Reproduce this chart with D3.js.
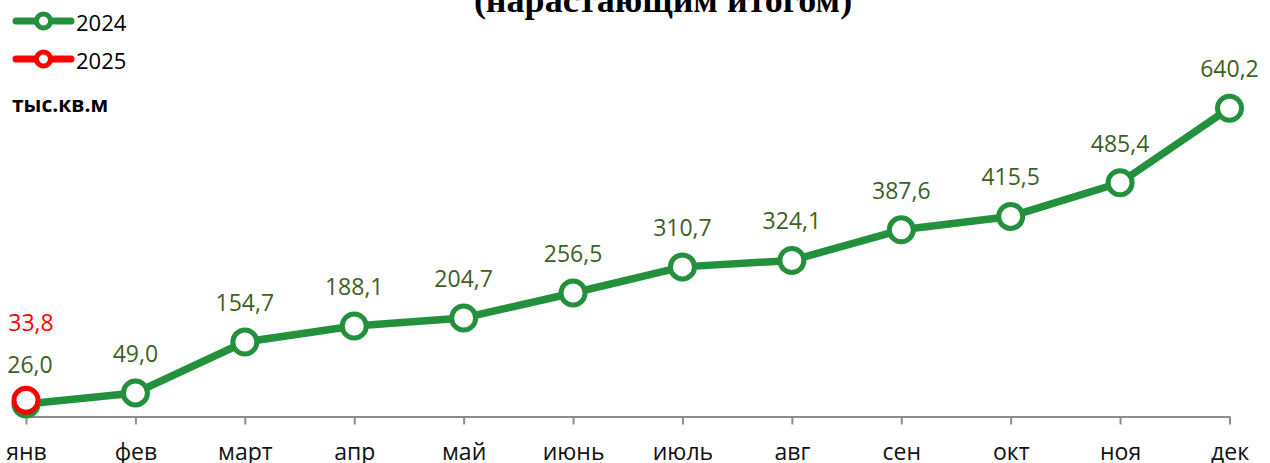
<!DOCTYPE html>
<html>
<head>
<meta charset="utf-8">
<script src="https://cdn.jsdelivr.net/npm/d3@7"></script>
<style>
  body { margin: 0; background: #fff; }
  svg { display: block; }
</style>
</head>
<body>
<div id="chart"></div>
<script>
// data
const months = ['янв', 'фев', 'март', 'апр', 'май', 'июнь', 'июль', 'авг', 'сен', 'окт', 'ноя', 'дек'];
const values2024 = [26.0, 49.0, 154.7, 188.1, 204.7, 256.5, 310.7, 324.1, 387.6, 415.5, 485.4, 640.2];
const values2025 = [33.8];
const seriesNames = ['2024', '2025'];
const titleText = '(нарастающим итогом)';
const unitText = 'тыс.кв.м';

const width = 1270, height = 463;
const green = '#23913c', red = '#ff0000', labelGreen = '#3d6123';
const font = "'Open Sans', 'Noto Sans', sans-serif";

const svg = d3.select('#chart').append('svg')
  .attr('width', width)
  .attr('height', height);

const x = d3.scalePoint().domain(months).range([26, 1229.5]);
const y = d3.scaleLinear().domain([0, 700]).range([416.5, 79.4]);

const fmt = v => d3.format('.1f')(v).replace('.', ',');

// title (its upper line lies above the picture)
svg.append('text')
  .attr('x', 663).attr('y', 12)
  .attr('text-anchor', 'middle')
  .attr('font-family', "'Liberation Serif', 'Times New Roman', serif")
  .attr('font-weight', 'bold')
  .attr('font-size', 36)
  .text(titleText);

// axis
const axis = svg.append('g')
  .attr('transform', `translate(0,${y(0)})`)
  .call(d3.axisBottom(x).tickSize(8).tickSizeOuter(0).tickPadding(19));
axis.select('.domain').attr('stroke', '#8c8c8c').attr('stroke-width', 2);
axis.selectAll('.tick line').attr('stroke', '#8c8c8c').attr('stroke-width', 2);
axis.selectAll('.tick text')
  .attr('font-family', font)
  .attr('font-size', 23)
  .attr('fill', '#111');

// 2024 line
const line = d3.line()
  .x((d, i) => x(months[i]))
  .y(d => y(d));

svg.append('path')
  .datum(values2024)
  .attr('d', line)
  .attr('fill', 'none')
  .attr('stroke', green)
  .attr('stroke-width', 7.5)
  .attr('stroke-linejoin', 'round');

svg.selectAll('.pt2024')
  .data(values2024)
  .enter().append('circle')
  .attr('class', 'pt2024')
  .attr('cx', (d, i) => x(months[i]))
  .attr('cy', d => y(d))
  .attr('r', 12)
  .attr('fill', '#fff')
  .attr('stroke', green)
  .attr('stroke-width', 5);

svg.selectAll('.lbl2024')
  .data(values2024)
  .enter().append('text')
  .attr('class', 'lbl2024')
  .attr('x', (d, i) => x(months[i]) + (i == 0 ? 4 : 0))
  .attr('y', d => y(d) - 31)
  .attr('text-anchor', 'middle')
  .attr('font-family', font)
  .attr('font-size', 23)
  .attr('fill', labelGreen)
  .text(d => fmt(d));

// 2025
svg.selectAll('.pt2025')
  .data(values2025)
  .enter().append('circle')
  .attr('class', 'pt2025')
  .attr('cx', (d, i) => x(months[i]))
  .attr('cy', d => y(d))
  .attr('r', 12)
  .attr('fill', '#fff')
  .attr('stroke', red)
  .attr('stroke-width', 5);

svg.selectAll('.lbl2025')
  .data(values2025)
  .enter().append('text')
  .attr('class', 'lbl2025')
  .attr('x', (d, i) => x(months[i]) + 5)
  .attr('y', d => y(d) - 69)
  .attr('text-anchor', 'middle')
  .attr('font-family', font)
  .attr('font-size', 23)
  .attr('fill', red)
  .text(d => fmt(d));

// legend
const legend = svg.selectAll('.legend')
  .data(seriesNames)
  .enter().append('g')
  .attr('class', 'legend')
  .attr('transform', (d, i) => `translate(0,${21 + i * 38})`);
legend.append('line')
  .attr('x1', 16).attr('x2', 71)
  .attr('stroke', (d, i) => i ? red : green)
  .attr('stroke-width', 7)
  .attr('stroke-linecap', 'round');
legend.append('circle')
  .attr('cx', 43.5).attr('r', 7)
  .attr('fill', '#fff')
  .attr('stroke', (d, i) => i ? red : green)
  .attr('stroke-width', 5);
legend.append('text')
  .attr('x', 76).attr('y', 10)
  .attr('font-family', font)
  .attr('font-size', 22)
  .attr('fill', '#000')
  .text(d => d);

// unit
svg.append('text')
  .attr('x', 12).attr('y', 112)
  .attr('font-family', font)
  .attr('font-weight', 'bold')
  .attr('font-size', 21)
  .attr('fill', '#000')
  .text(unitText);
</script>
</body>
</html>
